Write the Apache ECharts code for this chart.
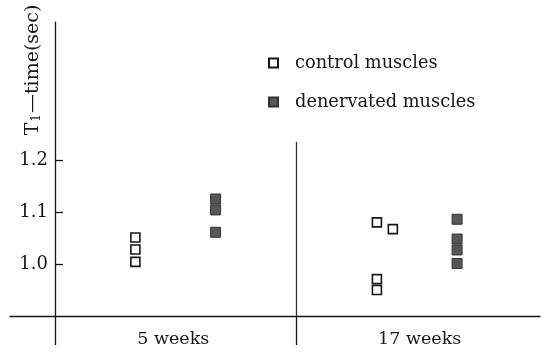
<!DOCTYPE html>
<html>
<head>
<meta charset="utf-8">
<script src="https://cdn.jsdelivr.net/npm/echarts@6/dist/echarts.min.js"></script>
<style>
  html, body { margin: 0; padding: 0; background: #fff; }
  #chart { width: 548px; height: 354px; }
</style>
</head>
<body>
<div id="chart"></div>
<script>
// T1 relaxation times of control and denervated muscles
const categories = ['5 weeks', '17 weeks'];
const controlValues = [
  [1.051, 1.028, 1.004],
  [1.080, 1.067, 0.971, 0.950]
];
const denervatedValues = [
  [1.125, 1.104, 1.061],
  [1.086, 1.048, 1.027, 1.001]
];
const yTickValues = [1.0, 1.1, 1.2];

// Placement of the two columns inside each group (group spans 1 x-unit)
const CONTROL_COL = 0.333;
const DENERV_COL = 0.665;
const SIDE_STEP = 0.066;
// points nudged sideways so that neighbours stay readable
const controlNudge = [[0, 0, 0], [0, 1, 0, 0]];

const FONT = 'DejaVu Serif';
const INK = '#161616';

const GRID_LEFT = 10;
const Y_AXIS_X = 55; // vertical axis sits inside the frame, x-axis runs past it

function toPoints(groups, col, nudge) {
  const out = [];
  groups.forEach((vals, g) => {
    vals.forEach((v, i) => {
      const step = nudge ? nudge[g][i] * SIDE_STEP : 0;
      out.push([g + col + step, v]);
    });
  });
  return out;
}

const chart = echarts.init(document.getElementById('chart'), null, { renderer: 'canvas' });

chart.setOption({
  animation: false,
  backgroundColor: '#fff',
  textStyle: { fontFamily: FONT, color: INK },
  grid: { left: GRID_LEFT, right: 8, top: 22.2, bottom: 38, containLabel: false, outerBoundsMode: 'none' },
  xAxis: {
    type: 'value',
    min: -0.1863,
    max: 2.0083,
    axisLine: { show: true, onZero: false, lineStyle: { color: INK, width: 1.3 } },
    axisTick: {
      show: true,
      inside: false,
      length: 29,
      customValues: [0, 1],
      lineStyle: { color: INK, width: 1.3 }
    },
    axisLabel: {
      show: true,
      customValues: [0.49, 1.51],
      margin: 14,
      fontFamily: FONT,
      fontSize: 17.5,
      color: INK,
      formatter: (v) => categories[Math.floor(v)]
    },
    splitLine: { show: false }
  },
  yAxis: {
    type: 'value',
    min: 0.9,
    max: 1.465,
    offset: GRID_LEFT - Y_AXIS_X,
    axisLine: { show: true, onZero: false, lineStyle: { color: INK, width: 1.3 } },
    axisTick: {
      show: true,
      inside: true,
      length: 8,
      customValues: yTickValues,
      lineStyle: { color: INK, width: 1.3 }
    },
    axisLabel: {
      show: true,
      customValues: yTickValues,
      margin: 7,
      fontFamily: FONT,
      fontSize: 18,
      color: INK,
      formatter: (v) => v.toFixed(1)
    },
    splitLine: { show: false }
  },
  legend: {
    orient: 'vertical',
    left: 263,
    top: 48,
    itemWidth: 9,
    itemHeight: 9,
    itemGap: 19,
    icon: 'rect',
    textStyle: {
      fontFamily: FONT,
      fontSize: 17.8,
      color: INK,
      lineHeight: 20,
      padding: [0, 0, 0, 12]
    },
    data: ['control muscles', 'denervated muscles']
  },
  graphic: [{
    type: 'text',
    x: 31,
    y: 70,
    rotation: Math.PI / 2,
    style: {
      text: '{a|T}{s|1}{a|—time(sec)}',
      align: 'center',
      verticalAlign: 'middle',
      fill: INK,
      rich: {
        a: { fontFamily: FONT, fontSize: 19, fill: INK, lineHeight: 24, verticalAlign: 'bottom' },
        s: { fontFamily: FONT, fontSize: 12, fill: INK, lineHeight: 24, verticalAlign: 'bottom', padding: [0, 1, 0, 1] }
      }
    }
  }],
  series: [
    {
      name: 'control muscles',
      type: 'scatter',
      symbol: 'rect',
      symbolSize: 9,
      itemStyle: { color: '#ffffff', borderColor: INK, borderWidth: 1.6, opacity: 1 },
      data: toPoints(controlValues, CONTROL_COL, controlNudge),
      markLine: {
        silent: true,
        symbol: 'none',
        label: { show: false },
        lineStyle: { color: '#333', width: 1.3, type: 'solid' },
        data: [
          [{ coord: [1, 1.2346] }, { coord: [1, 0.9] }]
        ]
      }
    },
    {
      name: 'denervated muscles',
      type: 'scatter',
      symbol: 'rect',
      symbolSize: 10,
      itemStyle: { color: '#575757', borderColor: '#333', borderWidth: 1, opacity: 1 },
      data: toPoints(denervatedValues, DENERV_COL)
    }
  ]
});
</script>
</body>
</html>
